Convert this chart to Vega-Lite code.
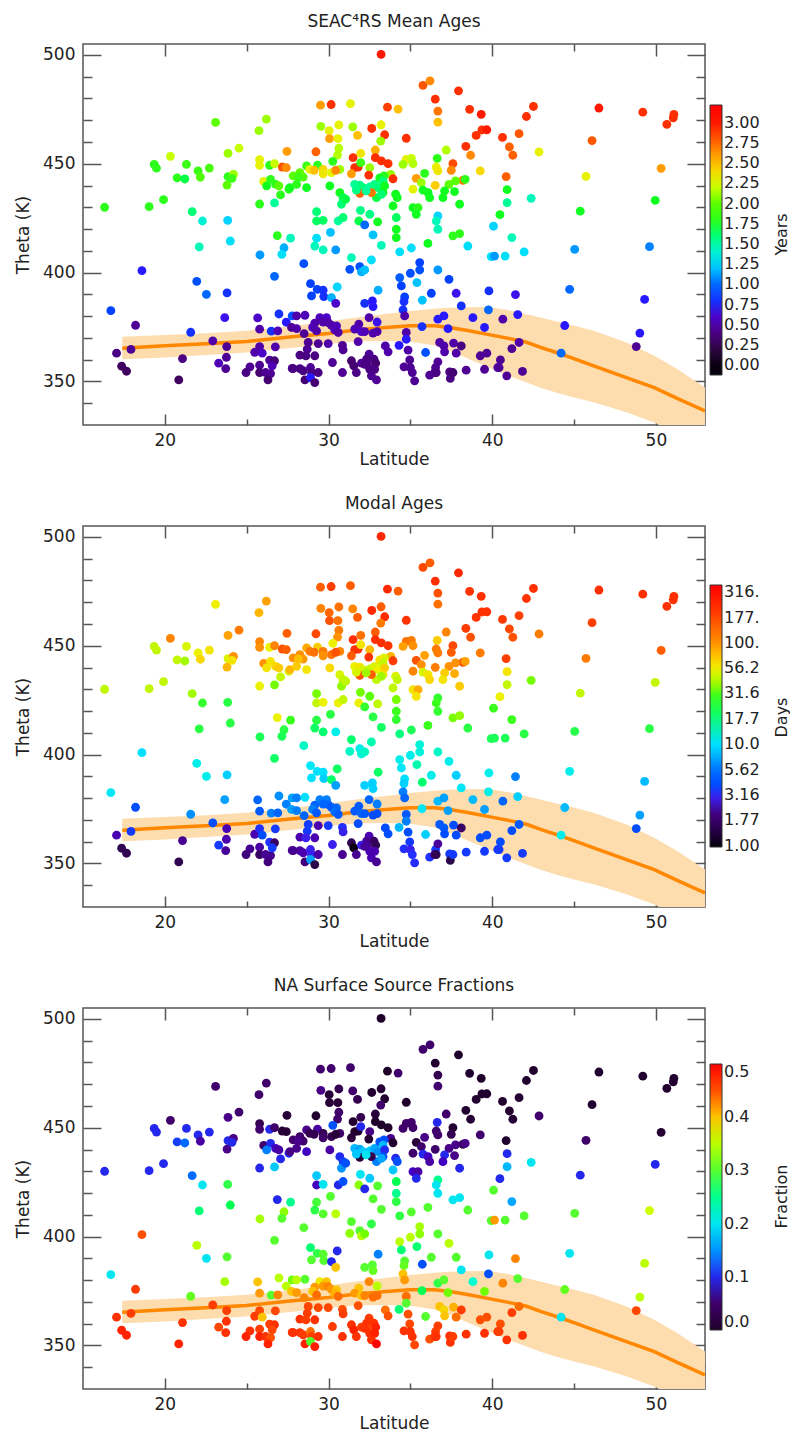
{
"$schema": "https://vega.github.io/schema/vega-lite/v6.json",
"background": "white",
"padding": {"left": 13, "top": 12, "right": 5, "bottom": 5},
"config": {
  "font": "DejaVu Sans",
  "view": {"stroke": "#555555", "strokeWidth": 1.5},
  "axis": {"domain": false, "grid": false, "tickColor": "#555555", "tickWidth": 1.5, "labelFontSize": 17, "titleFontSize": 17, "labelColor": "#222222", "titleColor": "#222222", "titleFontWeight": "normal", "labelFont": "DejaVu Sans", "titleFont": "DejaVu Sans"},
  "title": {"fontSize": 17, "fontWeight": "normal", "color": "#222222", "offset": 12, "font": "DejaVu Sans"},
  "legend": {"labelFontSize": 16, "labelColor": "#222222", "gradientThickness": 12, "gradientStrokeColor": "#333333", "gradientStrokeWidth": 1, "labelOffset": 8, "labelOverlap": false, "orient": "none", "direction": "vertical"}
},
"datasets": {
  "trop": [
    {"lat": 17.4, "th": 365.3, "lo": 360.2, "hi": 370.5},
    {"lat": 20, "th": 366.4, "lo": 361, "hi": 371.3},
    {"lat": 22.5, "th": 367.3, "lo": 362.1, "hi": 372.2},
    {"lat": 25, "th": 368.4, "lo": 363.3, "hi": 373.3},
    {"lat": 27.8, "th": 370.5, "lo": 365.5, "hi": 375.5},
    {"lat": 30, "th": 372, "lo": 367.2, "hi": 377.5},
    {"lat": 31.7, "th": 373.6, "lo": 368.5, "hi": 379.4},
    {"lat": 33.5, "th": 374.8, "lo": 368.6, "hi": 381},
    {"lat": 35, "th": 375.6, "lo": 368.2, "hi": 382.4},
    {"lat": 36.5, "th": 375.6, "lo": 366.5, "hi": 383.4},
    {"lat": 37.4, "th": 374.8, "lo": 364.1, "hi": 383.9},
    {"lat": 38.5, "th": 373.4, "lo": 360.5, "hi": 384.1},
    {"lat": 39.8, "th": 371.5, "lo": 356.4, "hi": 384.2},
    {"lat": 41, "th": 369.8, "lo": 352.6, "hi": 382.7},
    {"lat": 42.1, "th": 368, "lo": 349.5, "hi": 380.9},
    {"lat": 43, "th": 365.5, "lo": 347, "hi": 379.3},
    {"lat": 44.2, "th": 362.6, "lo": 344.2, "hi": 377.1},
    {"lat": 45.2, "th": 359.9, "lo": 342.3, "hi": 375.2},
    {"lat": 46.2, "th": 357.2, "lo": 340.4, "hi": 373.3},
    {"lat": 48.2, "th": 351.8, "lo": 335.8, "hi": 367.9},
    {"lat": 49.9, "th": 347.2, "lo": 331.2, "hi": 361.8},
    {"lat": 51.3, "th": 342.2, "lo": 326, "hi": 355.7},
    {"lat": 53, "th": 336.5, "lo": 320, "hi": 347.2}
  ],
  "pts": [
{"lat":23.1,"th":469.0,"a":2.0,"m":56,"f":0.05},
{"lat":26.2,"th":470.5,"a":2.1,"m":90,"f":0.05},
{"lat":25.75,"th":465.2,"a":2.1,"m":80,"f":0.05},
{"lat":27.46,"th":455.7,"a":2.6,"m":150,"f":0.03},
{"lat":24.53,"th":457.2,"a":2.2,"m":120,"f":0.05},
{"lat":23.86,"th":454.8,"a":2.1,"m":90,"f":0.06},
{"lat":20.34,"th":453.4,"a":2.2,"m":110,"f":0.05},
{"lat":19.35,"th":449.7,"a":1.8,"m":45,"f":0.1},
{"lat":19.49,"th":448.0,"a":1.8,"m":45,"f":0.1},
{"lat":21.32,"th":449.7,"a":1.85,"m":50,"f":0.1},
{"lat":22.03,"th":446.7,"a":1.85,"m":55,"f":0.1},
{"lat":22.72,"th":448.0,"a":1.9,"m":60,"f":0.1},
{"lat":22.17,"th":443.8,"a":1.95,"m":65,"f":0.07},
{"lat":20.75,"th":443.5,"a":1.8,"m":45,"f":0.11},
{"lat":21.22,"th":443.0,"a":1.7,"m":40,"f":0.13},
{"lat":23.86,"th":444.1,"a":1.8,"m":50,"f":0.1},
{"lat":24.19,"th":445.1,"a":2.1,"m":100,"f":0.06},
{"lat":23.8,"th":440.2,"a":2.0,"m":80,"f":0.06},
{"lat":24.1,"th":443.3,"a":1.85,"m":60,"f":0.1},
{"lat":25.79,"th":451.9,"a":2.3,"m":110,"f":0.04},
{"lat":25.79,"th":449.3,"a":2.3,"m":100,"f":0.05},
{"lat":26.4,"th":449.3,"a":1.8,"m":55,"f":0.1},
{"lat":26.7,"th":450.0,"a":2.2,"m":110,"f":0.05},
{"lat":27.17,"th":448.5,"a":2.8,"m":160,"f":0.03},
{"lat":27.42,"th":448.2,"a":2.65,"m":150,"f":0.03},
{"lat":26.04,"th":441.9,"a":2.3,"m":100,"f":0.05},
{"lat":26.46,"th":442.8,"a":1.8,"m":60,"f":0.1},
{"lat":26.77,"th":440.5,"a":1.8,"m":65,"f":0.08},
{"lat":26.97,"th":439.8,"a":2.0,"m":70,"f":0.07},
{"lat":27.58,"th":438.3,"a":1.8,"m":50,"f":0.1},
{"lat":26.22,"th":439.8,"a":1.75,"m":60,"f":0.14},
{"lat":27.07,"th":435.7,"a":1.8,"m":45,"f":0.1},
{"lat":25.79,"th":431.5,"a":1.8,"m":55,"f":0.1},
{"lat":26.7,"th":432.0,"a":1.5,"m":35,"f":0.18},
{"lat":16.32,"th":430.0,"a":1.8,"m":45,"f":0.1},
{"lat":19.04,"th":430.3,"a":1.8,"m":45,"f":0.1},
{"lat":19.92,"th":433.5,"a":1.8,"m":45,"f":0.1},
{"lat":21.67,"th":428.0,"a":1.6,"m":40,"f":0.13},
{"lat":22.3,"th":423.7,"a":1.4,"m":28,"f":0.2},
{"lat":23.84,"th":424.0,"a":1.25,"m":25,"f":0.28},
{"lat":26.87,"th":417.0,"a":1.8,"m":55,"f":0.1},
{"lat":27.68,"th":415.8,"a":1.45,"m":30,"f":0.25},
{"lat":24.0,"th":414.5,"a":1.3,"m":25,"f":0.27},
{"lat":22.1,"th":411.8,"a":1.45,"m":25,"f":0.26},
{"lat":25.81,"th":408.1,"a":1.1,"m":22,"f":0.34},
{"lat":27.28,"th":411.4,"a":1.15,"m":25,"f":0.33},
{"lat":27.15,"th":408.4,"a":1.3,"m":22,"f":0.3},
{"lat":18.6,"th":400.9,"a":0.75,"m":10,"f":0.45},
{"lat":21.95,"th":396.0,"a":0.9,"m":12,"f":0.35},
{"lat":22.54,"th":390.0,"a":1.0,"m":12,"f":0.2},
{"lat":23.8,"th":390.7,"a":0.8,"m":9,"f":0.3},
{"lat":26.7,"th":398.3,"a":1.0,"m":20,"f":0.3},
{"lat":16.7,"th":382.5,"a":0.85,"m":11,"f":0.2},
{"lat":18.21,"th":375.8,"a":0.45,"m":4,"f":0.47},
{"lat":23.66,"th":379.3,"a":0.7,"m":7,"f":0.34},
{"lat":25.67,"th":379.2,"a":0.6,"m":5,"f":0.4},
{"lat":25.79,"th":374.0,"a":0.5,"m":4.5,"f":0.42},
{"lat":26.5,"th":373.1,"a":0.8,"m":6,"f":0.3},
{"lat":26.97,"th":381.0,"a":0.8,"m":6.5,"f":0.35},
{"lat":26.9,"th":373.2,"a":0.55,"m":5,"f":0.43},
{"lat":27.42,"th":377.2,"a":0.75,"m":6,"f":0.35},
{"lat":27.78,"th":380.1,"a":0.9,"m":7,"f":0.32},
{"lat":21.58,"th":372.6,"a":0.8,"m":6.5,"f":0.31},
{"lat":22.93,"th":368.6,"a":0.5,"m":4,"f":0.47},
{"lat":17.05,"th":363.0,"a":0.4,"m":2.5,"f":0.48},
{"lat":17.93,"th":364.7,"a":0.45,"m":3.5,"f":0.47},
{"lat":17.36,"th":357.0,"a":0.3,"m":1.6,"f":0.49},
{"lat":17.66,"th":354.7,"a":0.3,"m":1.6,"f":0.49},
{"lat":21.08,"th":360.5,"a":0.4,"m":2.2,"f":0.48},
{"lat":20.85,"th":350.7,"a":0.3,"m":1.6,"f":0.49},
{"lat":23.78,"th":366.0,"a":0.45,"m":2.5,"f":0.47},
{"lat":23.76,"th":361.1,"a":0.45,"m":2.5,"f":0.48},
{"lat":23.29,"th":358.4,"a":0.55,"m":3.5,"f":0.46},
{"lat":23.72,"th":355.9,"a":0.45,"m":2.3,"f":0.48},
{"lat":25.49,"th":363.4,"a":0.5,"m":2.5,"f":0.47},
{"lat":25.79,"th":366.0,"a":0.5,"m":3.3,"f":0.46},
{"lat":25.95,"th":363.0,"a":0.6,"m":4,"f":0.4},
{"lat":25.2,"th":356.7,"a":0.45,"m":2.2,"f":0.48},
{"lat":24.96,"th":354.1,"a":0.4,"m":2.0,"f":0.49},
{"lat":25.79,"th":357.5,"a":0.45,"m":2.4,"f":0.47},
{"lat":25.79,"th":354.1,"a":0.35,"m":1.8,"f":0.49},
{"lat":26.16,"th":354.1,"a":0.45,"m":2.2,"f":0.48},
{"lat":26.46,"th":353.6,"a":0.45,"m":2.2,"f":0.45},
{"lat":26.3,"th":350.7,"a":0.35,"m":2.0,"f":0.49},
{"lat":26.4,"th":359.8,"a":0.45,"m":3.3,"f":0.47},
{"lat":26.7,"th":359.5,"a":0.35,"m":1.8,"f":0.48},
{"lat":26.56,"th":357.2,"a":0.55,"m":3.5,"f":0.46},
{"lat":27.78,"th":356.0,"a":0.45,"m":2.3,"f":0.48},
{"lat":26.75,"th":365.9,"a":0.5,"m":3.5,"f":0.46},
{"lat":33.21,"th":500.2,"a":3.0,"m":250,"f":0.0},
{"lat":29.51,"th":476.9,"a":2.6,"m":150,"f":0.05},
{"lat":30.16,"th":477.2,"a":2.95,"m":180,"f":0.05},
{"lat":31.34,"th":477.6,"a":2.3,"m":150,"f":0.05},
{"lat":33.6,"th":476.0,"a":2.9,"m":250,"f":0.0},
{"lat":34.25,"th":475.1,"a":2.5,"m":150,"f":0.05},
{"lat":35.77,"th":486.0,"a":2.8,"m":170,"f":0.05},
{"lat":36.2,"th":488.1,"a":2.65,"m":150,"f":0.05},
{"lat":36.52,"th":479.7,"a":2.95,"m":230,"f":0.01},
{"lat":36.68,"th":474.2,"a":2.7,"m":160,"f":0.04},
{"lat":36.68,"th":469.1,"a":2.5,"m":130,"f":0.05},
{"lat":37.94,"th":483.5,"a":2.95,"m":250,"f":0.0},
{"lat":38.62,"th":475.0,"a":2.95,"m":220,"f":0.01},
{"lat":39.33,"th":472.7,"a":3.0,"m":230,"f":0.0},
{"lat":29.53,"th":467.2,"a":2.1,"m":110,"f":0.06},
{"lat":30.04,"th":465.2,"a":2.3,"m":140,"f":0.03},
{"lat":30.63,"th":467.8,"a":2.3,"m":130,"f":0.04},
{"lat":31.48,"th":466.9,"a":2.1,"m":110,"f":0.05},
{"lat":30.06,"th":461.5,"a":2.6,"m":160,"f":0.03},
{"lat":30.57,"th":461.5,"a":2.3,"m":130,"f":0.03},
{"lat":31.77,"th":463.0,"a":2.5,"m":150,"f":0.04},
{"lat":32.64,"th":466.2,"a":2.95,"m":250,"f":0.01},
{"lat":33.21,"th":467.9,"a":2.3,"m":150,"f":0.03},
{"lat":33.43,"th":463.3,"a":2.95,"m":240,"f":0.01},
{"lat":33.19,"th":460.4,"a":2.1,"m":120,"f":0.05},
{"lat":34.75,"th":461.7,"a":2.95,"m":220,"f":0.0},
{"lat":39.37,"th":465.5,"a":2.95,"m":230,"f":0.01},
{"lat":39.67,"th":465.6,"a":3.0,"m":230,"f":0.01},
{"lat":39.02,"th":463.0,"a":2.95,"m":220,"f":0.01},
{"lat":38.39,"th":458.0,"a":2.95,"m":190,"f":0.01},
{"lat":38.68,"th":453.9,"a":2.65,"m":160,"f":0.03},
{"lat":29.23,"th":455.5,"a":2.75,"m":170,"f":0.01},
{"lat":30.63,"th":457.1,"a":2.15,"m":120,"f":0.05},
{"lat":30.55,"th":454.0,"a":2.15,"m":100,"f":0.05},
{"lat":31.97,"th":454.8,"a":2.35,"m":130,"f":0.04},
{"lat":32.86,"th":456.3,"a":2.55,"m":150,"f":0.03},
{"lat":31.5,"th":452.8,"a":2.95,"m":230,"f":0.01},
{"lat":32.86,"th":452.8,"a":2.95,"m":230,"f":0.0},
{"lat":33.23,"th":451.3,"a":2.95,"m":230,"f":0.0},
{"lat":33.64,"th":450.0,"a":2.95,"m":220,"f":0.01},
{"lat":30.26,"th":451.1,"a":1.8,"m":55,"f":0.12},
{"lat":29.33,"th":449.4,"a":1.8,"m":70,"f":0.07},
{"lat":28.66,"th":449.0,"a":1.85,"m":85,"f":0.06},
{"lat":28.25,"th":445.9,"a":2.0,"m":100,"f":0.05},
{"lat":27.84,"th":444.4,"a":2.0,"m":100,"f":0.05},
{"lat":28.86,"th":447.4,"a":2.3,"m":120,"f":0.04},
{"lat":29.12,"th":447.0,"a":2.5,"m":130,"f":0.04},
{"lat":29.67,"th":447.4,"a":2.4,"m":120,"f":0.04},
{"lat":29.67,"th":445.4,"a":2.35,"m":100,"f":0.05},
{"lat":30.18,"th":445.9,"a":2.3,"m":130,"f":0.04},
{"lat":30.69,"th":447.4,"a":2.1,"m":110,"f":0.05},
{"lat":30.44,"th":447.0,"a":2.65,"m":160,"f":0.03},
{"lat":31.6,"th":448.2,"a":2.95,"m":220,"f":0.01},
{"lat":31.81,"th":448.5,"a":2.95,"m":220,"f":0.01},
{"lat":32.52,"th":448.2,"a":2.1,"m":80,"f":0.06},
{"lat":31.4,"th":445.4,"a":2.6,"m":150,"f":0.03},
{"lat":32.46,"th":444.8,"a":2.95,"m":220,"f":0.01},
{"lat":31.97,"th":450.5,"a":1.85,"m":60,"f":0.1},
{"lat":33.8,"th":445.1,"a":2.1,"m":80,"f":0.06},
{"lat":33.94,"th":443.1,"a":2.95,"m":200,"f":0.01},
{"lat":33.39,"th":444.4,"a":1.8,"m":50,"f":0.12},
{"lat":34.75,"th":452.0,"a":2.3,"m":130,"f":0.05},
{"lat":35.06,"th":452.5,"a":2.2,"m":120,"f":0.05},
{"lat":34.55,"th":449.7,"a":2.1,"m":90,"f":0.05},
{"lat":35.16,"th":450.0,"a":2.15,"m":100,"f":0.05},
{"lat":36.64,"th":452.5,"a":1.8,"m":70,"f":0.1},
{"lat":37.19,"th":456.3,"a":2.15,"m":110,"f":0.05},
{"lat":37.6,"th":450.0,"a":2.85,"m":170,"f":0.02},
{"lat":37.5,"th":447.0,"a":2.65,"m":150,"f":0.04},
{"lat":36.58,"th":448.5,"a":2.3,"m":120,"f":0.05},
{"lat":36.68,"th":446.7,"a":2.35,"m":120,"f":0.05},
{"lat":35.87,"th":445.6,"a":1.8,"m":90,"f":0.06},
{"lat":35.36,"th":443.3,"a":2.6,"m":160,"f":0.03},
{"lat":39.27,"th":446.7,"a":2.4,"m":120,"f":0.05},
{"lat":38.21,"th":442.4,"a":2.7,"m":160,"f":0.04},
{"lat":38.35,"th":442.8,"a":1.8,"m":90,"f":0.06},
{"lat":37.76,"th":442.1,"a":2.0,"m":100,"f":0.06},
{"lat":37.36,"th":440.5,"a":2.0,"m":100,"f":0.06},
{"lat":36.52,"th":440.1,"a":2.45,"m":120,"f":0.05},
{"lat":37.09,"th":437.5,"a":1.75,"m":70,"f":0.1},
{"lat":36.99,"th":434.4,"a":1.75,"m":60,"f":0.08},
{"lat":37.7,"th":437.2,"a":1.75,"m":85,"f":0.06},
{"lat":35.16,"th":438.3,"a":2.3,"m":110,"f":0.05},
{"lat":35.67,"th":441.3,"a":2.1,"m":100,"f":0.05},
{"lat":35.77,"th":437.9,"a":1.75,"m":50,"f":0.1},
{"lat":36.08,"th":436.7,"a":1.75,"m":60,"f":0.08},
{"lat":36.18,"th":434.4,"a":1.75,"m":65,"f":0.07},
{"lat":38.01,"th":431.4,"a":1.75,"m":70,"f":0.1},
{"lat":27.64,"th":439.0,"a":1.75,"m":80,"f":0.06},
{"lat":28.05,"th":440.5,"a":1.8,"m":70,"f":0.06},
{"lat":28.45,"th":443.9,"a":1.95,"m":95,"f":0.05},
{"lat":28.66,"th":439.0,"a":1.75,"m":60,"f":0.08},
{"lat":28.15,"th":443.9,"a":1.85,"m":75,"f":0.06},
{"lat":30.08,"th":439.8,"a":1.75,"m":65,"f":0.07},
{"lat":30.69,"th":436.7,"a":1.75,"m":50,"f":0.1},
{"lat":30.89,"th":434.4,"a":1.7,"m":45,"f":0.11},
{"lat":30.79,"th":431.4,"a":1.6,"m":38,"f":0.15},
{"lat":31.05,"th":433.7,"a":1.7,"m":45,"f":0.12},
{"lat":31.6,"th":440.5,"a":1.5,"m":55,"f":0.17},
{"lat":31.91,"th":440.2,"a":1.55,"m":60,"f":0.16},
{"lat":32.11,"th":439.0,"a":1.6,"m":50,"f":0.18},
{"lat":32.52,"th":439.3,"a":1.5,"m":45,"f":0.18},
{"lat":32.82,"th":440.5,"a":1.55,"m":50,"f":0.16},
{"lat":33.03,"th":439.0,"a":1.6,"m":55,"f":0.15},
{"lat":33.13,"th":443.5,"a":1.75,"m":60,"f":0.12},
{"lat":33.33,"th":442.0,"a":1.6,"m":45,"f":0.17},
{"lat":33.43,"th":439.8,"a":1.75,"m":70,"f":0.1},
{"lat":33.33,"th":436.7,"a":1.75,"m":60,"f":0.12},
{"lat":32.93,"th":434.4,"a":1.7,"m":45,"f":0.14},
{"lat":33.23,"th":435.9,"a":1.6,"m":40,"f":0.16},
{"lat":32.62,"th":436.7,"a":2.7,"m":150,"f":0.04},
{"lat":31.91,"th":436.4,"a":2.75,"m":160,"f":0.03},
{"lat":32.3,"th":437.5,"a":1.5,"m":40,"f":0.2},
{"lat":31.7,"th":437.9,"a":1.55,"m":50,"f":0.18},
{"lat":34.1,"th":436.0,"a":1.75,"m":50,"f":0.1},
{"lat":34.2,"th":434.4,"a":1.75,"m":45,"f":0.12},
{"lat":33.94,"th":430.6,"a":1.75,"m":45,"f":0.18},
{"lat":34.14,"th":425.3,"a":1.65,"m":35,"f":0.27},
{"lat":31.95,"th":428.6,"a":1.55,"m":35,"f":0.2},
{"lat":32.52,"th":426.8,"a":1.55,"m":33,"f":0.18},
{"lat":33.0,"th":423.3,"a":1.75,"m":45,"f":0.3},
{"lat":31.85,"th":423.7,"a":1.7,"m":55,"f":0.33},
{"lat":29.27,"th":428.0,"a":1.6,"m":35,"f":0.18},
{"lat":29.27,"th":423.7,"a":1.65,"m":45,"f":0.08},
{"lat":29.67,"th":424.0,"a":1.65,"m":55,"f":0.2},
{"lat":30.59,"th":423.7,"a":1.5,"m":55,"f":0.1},
{"lat":30.89,"th":425.3,"a":1.6,"m":45,"f":0.12},
{"lat":32.21,"th":421.9,"a":1.0,"m":28,"f":0.1},
{"lat":32.72,"th":417.3,"a":1.2,"m":25,"f":0.3},
{"lat":30.12,"th":418.5,"a":1.2,"m":25,"f":0.3},
{"lat":29.27,"th":415.8,"a":1.3,"m":25,"f":0.29},
{"lat":34.14,"th":419.9,"a":1.75,"m":30,"f":0.25},
{"lat":34.14,"th":416.1,"a":1.75,"m":28,"f":0.28},
{"lat":35.16,"th":429.8,"a":1.75,"m":60,"f":0.08},
{"lat":35.47,"th":429.8,"a":1.8,"m":85,"f":0.07},
{"lat":35.36,"th":426.8,"a":1.75,"m":60,"f":0.1},
{"lat":36.68,"th":426.0,"a":1.25,"m":28,"f":0.25},
{"lat":36.68,"th":419.9,"a":1.45,"m":28,"f":0.2},
{"lat":36.58,"th":423.7,"a":1.45,"m":30,"f":0.2},
{"lat":37.6,"th":416.9,"a":1.8,"m":35,"f":0.2},
{"lat":38.01,"th":417.9,"a":1.8,"m":38,"f":0.2},
{"lat":40.08,"th":421.3,"a":1.25,"m":30,"f":0.3},
{"lat":42.52,"th":476.3,"a":2.95,"m":230,"f":0.01},
{"lat":42.09,"th":471.7,"a":2.95,"m":220,"f":0.01},
{"lat":40.63,"th":462.1,"a":2.95,"m":200,"f":0.01},
{"lat":41.64,"th":463.8,"a":2.8,"m":180,"f":0.02},
{"lat":41.05,"th":457.7,"a":2.75,"m":170,"f":0.02},
{"lat":41.26,"th":453.9,"a":2.75,"m":160,"f":0.02},
{"lat":42.86,"th":455.4,"a":2.3,"m":120,"f":0.05},
{"lat":40.85,"th":444.1,"a":2.75,"m":180,"f":0.01},
{"lat":40.91,"th":438.1,"a":1.75,"m":60,"f":0.1},
{"lat":40.91,"th":432.1,"a":1.5,"m":45,"f":0.17},
{"lat":40.47,"th":426.6,"a":1.75,"m":55,"f":0.1},
{"lat":42.38,"th":434.1,"a":1.45,"m":35,"f":0.2},
{"lat":41.2,"th":416.1,"a":1.45,"m":30,"f":0.16},
{"lat":46.52,"th":475.6,"a":3.0,"m":230,"f":0.01},
{"lat":46.1,"th":460.6,"a":2.8,"m":180,"f":0.01},
{"lat":45.73,"th":444.2,"a":2.3,"m":120,"f":0.05},
{"lat":45.38,"th":428.2,"a":1.75,"m":45,"f":0.1},
{"lat":49.2,"th":473.7,"a":2.95,"m":230,"f":0.01},
{"lat":50.67,"th":468.1,"a":2.95,"m":220,"f":0.01},
{"lat":51.06,"th":471.1,"a":2.95,"m":220,"f":0.01},
{"lat":51.1,"th":472.7,"a":2.95,"m":230,"f":0.01},
{"lat":50.32,"th":447.9,"a":2.6,"m":150,"f":0.02},
{"lat":49.96,"th":433.2,"a":1.75,"m":45,"f":0.1},
{"lat":29.16,"th":412.2,"a":1.45,"m":20,"f":0.28},
{"lat":29.67,"th":410.4,"a":1.45,"m":18,"f":0.3},
{"lat":30.44,"th":410.4,"a":1.1,"m":12,"f":0.35},
{"lat":31.4,"th":406.9,"a":1.45,"m":18,"f":0.3},
{"lat":32.62,"th":405.8,"a":1.3,"m":15,"f":0.28},
{"lat":33.23,"th":412.5,"a":1.45,"m":20,"f":0.3},
{"lat":34.35,"th":409.5,"a":1.3,"m":17,"f":0.28},
{"lat":35.06,"th":411.3,"a":1.3,"m":22,"f":0.3},
{"lat":36.07,"th":413.4,"a":1.75,"m":30,"f":0.3},
{"lat":38.51,"th":412.2,"a":1.3,"m":25,"f":0.3},
{"lat":39.94,"th":407.3,"a":1.3,"m":22,"f":0.3},
{"lat":40.14,"th":407.6,"a":1.1,"m":22,"f":0.42},
{"lat":28.49,"th":404.1,"a":0.9,"m":14,"f":0.3},
{"lat":31.3,"th":401.5,"a":0.9,"m":14,"f":0.33},
{"lat":31.91,"th":402.7,"a":0.9,"m":12,"f":0.3},
{"lat":32.01,"th":400.3,"a":1.15,"m":13,"f":0.35},
{"lat":32.21,"th":401.2,"a":1.2,"m":14,"f":0.32},
{"lat":35.57,"th":404.6,"a":0.85,"m":13,"f":0.34},
{"lat":35.0,"th":399.7,"a":0.9,"m":12,"f":0.35},
{"lat":35.57,"th":401.2,"a":0.9,"m":13,"f":0.33},
{"lat":34.35,"th":397.7,"a":0.95,"m":12,"f":0.35},
{"lat":36.68,"th":401.2,"a":1.1,"m":14,"f":0.3},
{"lat":37.36,"th":396.9,"a":0.85,"m":12,"f":0.35},
{"lat":35.4,"th":395.4,"a":1.2,"m":15,"f":0.26},
{"lat":34.45,"th":393.9,"a":0.85,"m":11,"f":0.26},
{"lat":28.9,"th":394.9,"a":0.85,"m":11,"f":0.26},
{"lat":29.31,"th":392.3,"a":0.85,"m":10,"f":0.28},
{"lat":29.67,"th":391.9,"a":0.8,"m":10,"f":0.3},
{"lat":29.71,"th":389.0,"a":0.8,"m":9,"f":0.3},
{"lat":28.96,"th":389.3,"a":0.85,"m":10,"f":0.3},
{"lat":30.53,"th":393.4,"a":1.25,"m":20,"f":0.1},
{"lat":30.18,"th":388.5,"a":1.15,"m":18,"f":0.1},
{"lat":30.44,"th":385.9,"a":0.6,"m":7,"f":0.4},
{"lat":33.03,"th":391.9,"a":1.15,"m":20,"f":0.14},
{"lat":32.21,"th":385.9,"a":0.8,"m":9,"f":0.3},
{"lat":32.68,"th":387.0,"a":0.75,"m":9,"f":0.3},
{"lat":32.72,"th":384.4,"a":0.75,"m":9,"f":0.31},
{"lat":34.65,"th":388.8,"a":0.85,"m":10,"f":0.3},
{"lat":34.61,"th":386.7,"a":0.8,"m":9,"f":0.31},
{"lat":34.55,"th":382.9,"a":0.8,"m":6,"f":0.4},
{"lat":35.73,"th":387.3,"a":1.2,"m":18,"f":0.12},
{"lat":36.28,"th":390.5,"a":0.85,"m":12,"f":0.3},
{"lat":37.8,"th":390.5,"a":0.7,"m":9,"f":0.3},
{"lat":38.11,"th":384.7,"a":0.8,"m":11,"f":0.2},
{"lat":39.8,"th":391.6,"a":0.8,"m":12,"f":0.2},
{"lat":39.77,"th":382.9,"a":1.0,"m":12,"f":0.12},
{"lat":38.82,"th":379.3,"a":0.75,"m":8,"f":0.22},
{"lat":39.53,"th":374.8,"a":0.75,"m":7,"f":0.32},
{"lat":36.68,"th":378.6,"a":0.75,"m":8,"f":0.28},
{"lat":37.05,"th":380.1,"a":0.75,"m":7,"f":0.3},
{"lat":37.3,"th":374.3,"a":0.75,"m":7,"f":0.32},
{"lat":35.71,"th":375.2,"a":0.8,"m":11,"f":0.27},
{"lat":32.48,"th":379.3,"a":0.5,"m":5,"f":0.43},
{"lat":32.97,"th":377.3,"a":0.7,"m":6,"f":0.35},
{"lat":31.85,"th":376.3,"a":0.5,"m":4.5,"f":0.4},
{"lat":31.6,"th":374.0,"a":0.55,"m":4.5,"f":0.42},
{"lat":32.01,"th":372.9,"a":0.6,"m":5,"f":0.4},
{"lat":32.21,"th":372.9,"a":0.55,"m":4.5,"f":0.43},
{"lat":32.72,"th":372.2,"a":0.5,"m":4,"f":0.44},
{"lat":32.97,"th":372.9,"a":0.5,"m":4,"f":0.44},
{"lat":34.65,"th":380.1,"a":0.5,"m":5,"f":0.42},
{"lat":34.75,"th":372.5,"a":0.5,"m":4.5,"f":0.44},
{"lat":34.75,"th":369.4,"a":0.75,"m":6,"f":0.3},
{"lat":34.31,"th":366.6,"a":0.75,"m":8,"f":0.26},
{"lat":34.86,"th":364.4,"a":0.5,"m":4,"f":0.45},
{"lat":36.79,"th":367.9,"a":0.5,"m":4.5,"f":0.4},
{"lat":37.05,"th":366.3,"a":0.5,"m":4.5,"f":0.39},
{"lat":37.09,"th":363.6,"a":0.5,"m":4,"f":0.4},
{"lat":37.64,"th":367.6,"a":0.5,"m":4,"f":0.41},
{"lat":38.11,"th":366.3,"a":0.4,"m":1.8,"f":0.47},
{"lat":37.8,"th":363.0,"a":0.5,"m":4,"f":0.44},
{"lat":35.93,"th":363.3,"a":0.9,"m":9,"f":0.3},
{"lat":39.27,"th":361.8,"a":0.45,"m":4,"f":0.45},
{"lat":39.67,"th":363.0,"a":0.45,"m":4,"f":0.45},
{"lat":28.05,"th":380.1,"a":0.5,"m":6,"f":0.35},
{"lat":28.56,"th":380.4,"a":0.55,"m":10,"f":0.3},
{"lat":27.74,"th":374.8,"a":0.45,"m":7,"f":0.4},
{"lat":28.05,"th":374.3,"a":0.5,"m":6,"f":0.42},
{"lat":29.47,"th":379.3,"a":0.55,"m":6,"f":0.38},
{"lat":29.88,"th":379.3,"a":0.6,"m":6,"f":0.4},
{"lat":29.16,"th":376.8,"a":0.5,"m":5,"f":0.42},
{"lat":29.67,"th":377.3,"a":0.5,"m":5,"f":0.42},
{"lat":29.03,"th":374.8,"a":0.55,"m":6,"f":0.4},
{"lat":29.27,"th":373.2,"a":0.5,"m":4.5,"f":0.44},
{"lat":29.98,"th":377.0,"a":0.5,"m":5,"f":0.43},
{"lat":30.18,"th":375.8,"a":0.5,"m":4.5,"f":0.42},
{"lat":30.49,"th":375.5,"a":0.55,"m":5,"f":0.4},
{"lat":30.38,"th":373.7,"a":0.55,"m":5.5,"f":0.41},
{"lat":30.59,"th":372.5,"a":0.5,"m":4.5,"f":0.44},
{"lat":28.51,"th":372.0,"a":0.45,"m":5,"f":0.43},
{"lat":28.76,"th":367.9,"a":0.45,"m":3.5,"f":0.46},
{"lat":28.7,"th":364.8,"a":0.45,"m":3.5,"f":0.47},
{"lat":28.25,"th":362.1,"a":0.4,"m":2.5,"f":0.48},
{"lat":28.62,"th":361.8,"a":0.4,"m":3,"f":0.47},
{"lat":29.16,"th":361.8,"a":0.4,"m":2.5,"f":0.48},
{"lat":29.37,"th":367.4,"a":0.45,"m":2.5,"f":0.46},
{"lat":29.98,"th":367.4,"a":0.5,"m":3.5,"f":0.46},
{"lat":30.85,"th":366.6,"a":0.45,"m":3.3,"f":0.45},
{"lat":30.89,"th":364.5,"a":0.45,"m":3,"f":0.47},
{"lat":31.81,"th":368.3,"a":0.5,"m":4,"f":0.45},
{"lat":33.47,"th":366.3,"a":0.5,"m":4,"f":0.44},
{"lat":33.64,"th":363.6,"a":0.5,"m":4,"f":0.45},
{"lat":32.48,"th":362.5,"a":0.45,"m":2.5,"f":0.47},
{"lat":32.32,"th":360.2,"a":0.4,"m":2.2,"f":0.48},
{"lat":32.78,"th":360.2,"a":0.4,"m":1.8,"f":0.48},
{"lat":32.88,"th":358.4,"a":0.35,"m":1.6,"f":0.49},
{"lat":32.36,"th":357.9,"a":0.4,"m":2.2,"f":0.47},
{"lat":32.52,"th":355.6,"a":0.4,"m":2.5,"f":0.48},
{"lat":32.82,"th":355.6,"a":0.4,"m":2.5,"f":0.49},
{"lat":32.62,"th":352.6,"a":0.45,"m":2.5,"f":0.48},
{"lat":32.93,"th":350.7,"a":0.45,"m":2.2,"f":0.5},
{"lat":31.4,"th":359.5,"a":0.35,"m":1.6,"f":0.48},
{"lat":31.54,"th":357.2,"a":0.35,"m":1.0,"f":0.49},
{"lat":31.7,"th":354.1,"a":0.4,"m":2.2,"f":0.48},
{"lat":32.01,"th":358.4,"a":0.45,"m":3,"f":0.47},
{"lat":32.21,"th":357.9,"a":0.4,"m":2.3,"f":0.48},
{"lat":30.24,"th":358.7,"a":0.45,"m":3,"f":0.47},
{"lat":30.85,"th":354.1,"a":0.45,"m":2.2,"f":0.48},
{"lat":27.84,"th":355.9,"a":0.4,"m":2.2,"f":0.48},
{"lat":28.25,"th":355.9,"a":0.4,"m":2.3,"f":0.48},
{"lat":28.45,"th":354.9,"a":0.4,"m":2.5,"f":0.47},
{"lat":28.9,"th":356.4,"a":0.45,"m":3,"f":0.44},
{"lat":28.96,"th":354.1,"a":0.4,"m":3,"f":0.47},
{"lat":29.37,"th":354.1,"a":0.4,"m":2.4,"f":0.48},
{"lat":28.56,"th":350.7,"a":0.35,"m":2.0,"f":0.49},
{"lat":28.9,"th":351.8,"a":0.75,"m":7,"f":0.3},
{"lat":29.16,"th":349.5,"a":0.35,"m":1.5,"f":0.49},
{"lat":34.61,"th":356.7,"a":0.45,"m":3.3,"f":0.48},
{"lat":34.96,"th":359.9,"a":0.45,"m":3.5,"f":0.46},
{"lat":35.0,"th":356.4,"a":0.45,"m":3,"f":0.48},
{"lat":35.12,"th":354.1,"a":0.45,"m":3.3,"f":0.48},
{"lat":35.26,"th":350.3,"a":0.45,"m":3.2,"f":0.46},
{"lat":36.18,"th":352.9,"a":0.45,"m":3.3,"f":0.45},
{"lat":36.54,"th":356.4,"a":0.45,"m":3.5,"f":0.47},
{"lat":36.68,"th":359.0,"a":0.45,"m":2.3,"f":0.47},
{"lat":36.48,"th":354.1,"a":0.45,"m":2.0,"f":0.47},
{"lat":36.58,"th":354.1,"a":0.4,"m":1.6,"f":0.48},
{"lat":37.4,"th":354.4,"a":0.4,"m":3.5,"f":0.48},
{"lat":37.44,"th":351.4,"a":0.4,"m":1.5,"f":0.48},
{"lat":37.6,"th":354.1,"a":0.35,"m":3.5,"f":0.47},
{"lat":38.41,"th":355.2,"a":0.45,"m":3.5,"f":0.48},
{"lat":39.53,"th":355.6,"a":0.45,"m":3.5,"f":0.48},
{"lat":40.34,"th":356.4,"a":0.5,"m":3.5,"f":0.47},
{"lat":40.79,"th":407.6,"a":1.3,"m":22,"f":0.3},
{"lat":41.95,"th":409.5,"a":1.3,"m":25,"f":0.3},
{"lat":45.04,"th":410.7,"a":1.1,"m":24,"f":0.3},
{"lat":49.61,"th":411.9,"a":1.05,"m":25,"f":0.36},
{"lat":41.42,"th":389.9,"a":0.7,"m":6,"f":0.43},
{"lat":44.73,"th":392.3,"a":1.0,"m":12,"f":0.2},
{"lat":49.31,"th":387.7,"a":0.75,"m":8,"f":0.35},
{"lat":40.65,"th":378.6,"a":0.5,"m":5,"f":0.43},
{"lat":41.56,"th":380.7,"a":0.75,"m":9,"f":0.3},
{"lat":44.43,"th":375.7,"a":0.75,"m":8,"f":0.31},
{"lat":49.02,"th":372.2,"a":0.75,"m":7,"f":0.35},
{"lat":48.8,"th":366.0,"a":0.45,"m":4,"f":0.46},
{"lat":44.21,"th":363.0,"a":1.0,"m":12,"f":0.2},
{"lat":41.2,"th":365.1,"a":0.45,"m":4,"f":0.47},
{"lat":41.64,"th":367.9,"a":0.5,"m":4.5,"f":0.44},
{"lat":40.5,"th":359.9,"a":0.45,"m":4,"f":0.45},
{"lat":40.42,"th":356.4,"a":0.45,"m":3.5,"f":0.47},
{"lat":40.89,"th":352.6,"a":0.45,"m":3.5,"f":0.48},
{"lat":41.85,"th":354.6,"a":0.45,"m":3.5,"f":0.48}
  ]
},
"spacing": 26,
"resolve": {"scale": {"color": "independent"}, "legend": {"color": "independent"}},
"vconcat": [
 {
  "title": {"text": "SEAC⁴RS Mean Ages"},
  "width": 622, "height": 381,
  "resolve": {"axis": {"x": "independent", "y": "independent"}},
  "layer": [
   {"data": {"name": "trop"}, "mark": {"type": "area", "color": "#fddcae", "opacity": 1, "clip": true},
    "encoding": {
     "x": {"field": "lat", "type": "quantitative", "scale": {"domain": [15, 53], "nice": false, "zero": false}, "axis": {"orient": "bottom", "values": [20, 30, 40, 50], "ticks": false, "title": "Latitude", "labelPadding": 7, "titlePadding": 3}},
     "y": {"field": "lo", "type": "quantitative", "scale": {"domain": [330, 505], "nice": false, "zero": false}, "axis": {"orient": "left", "values": [350, 400, 450, 500], "ticks": false, "title": "Theta (K)", "labelPadding": 8, "titlePadding": 10}},
     "y2": {"field": "hi"}}},
   {"data": {"name": "trop"}, "mark": {"type": "line", "color": "#ff8800", "strokeWidth": 3.5, "clip": true},
    "encoding": {
     "x": {"field": "lat", "type": "quantitative", "axis": {"orient": "bottom", "values": [20, 30, 40, 50], "tickSize": -11, "labels": false, "title": null}},
     "y": {"field": "th", "type": "quantitative", "axis": {"orient": "left", "values": [350, 400, 450, 500], "tickSize": -18, "labels": false, "title": null}}}},
   {"data": {"name": "pts"}, "mark": {"type": "circle", "size": 78, "opacity": 1},
    "encoding": {
     "x": {"field": "lat", "type": "quantitative", "axis": {"orient": "bottom", "values": [25, 35, 45], "tickSize": -6, "labels": false, "title": null}},
     "y": {"field": "th", "type": "quantitative", "axis": {"orient": "left", "values": [340, 360, 370, 380, 390, 410, 420, 430, 440, 460, 470, 480, 490], "tickSize": -9, "labels": false, "title": null}},
     "color": {"field": "a", "type": "quantitative",
       "scale": {"domain": [-0.12, 0, 0.25, 0.5, 0.75, 1.0, 1.25, 1.5, 1.75, 2.0, 2.25, 2.5, 2.75, 3.0, 3.22], "range": ["#000000", "#0a0010", "#380050", "#5000a8", "#2818ff", "#0068ff", "#00d4ff", "#00ff98", "#10ff20", "#5cff00", "#dcff00", "#ffc000", "#ff6000", "#ff1800", "#ff0000"]},
       "legend": {"title": null, "legendX": 627, "legendY": 61, "gradientLength": 270, "values": [0, 0.25, 0.5, 0.75, 1.0, 1.25, 1.5, 1.75, 2.0, 2.25, 2.5, 2.75, 3.0], "format": ".2f"}}}},
   {"data": {"name": "trop"}, "mark": {"type": "point", "opacity": 0},
    "encoding": {
     "x": {"field": "lat", "type": "quantitative", "axis": {"orient": "top", "values": [20, 30, 40, 50], "tickSize": -12, "labels": false, "title": null}},
     "y": {"field": "th", "type": "quantitative", "axis": {"orient": "right", "values": [350, 400, 450, 500], "tickSize": -18, "labels": false, "title": "Years", "titleFontSize": 16, "titleAngle": 270, "titleX": 76, "titleY": 190, "titleAlign": "center", "titleBaseline": "middle"}}}},
   {"data": {"name": "trop"}, "mark": {"type": "point", "opacity": 0},
    "encoding": {
     "x": {"field": "lat", "type": "quantitative", "axis": {"orient": "top", "values": [25, 35, 45], "tickSize": -7, "labels": false, "title": null}},
     "y": {"field": "th", "type": "quantitative", "axis": {"orient": "right", "values": [340, 360, 370, 380, 390, 410, 420, 430, 440, 460, 470, 480, 490], "tickSize": -9, "labels": false, "title": null}}}}
  ]
 },
 {
  "title": {"text": "Modal Ages"},
  "width": 622, "height": 381,
  "resolve": {"axis": {"x": "independent", "y": "independent"}},
  "layer": [
   {"data": {"name": "trop"}, "mark": {"type": "area", "color": "#fddcae", "opacity": 1, "clip": true},
    "encoding": {
     "x": {"field": "lat", "type": "quantitative", "scale": {"domain": [15, 53], "nice": false, "zero": false}, "axis": {"orient": "bottom", "values": [20, 30, 40, 50], "ticks": false, "title": "Latitude", "labelPadding": 7, "titlePadding": 3}},
     "y": {"field": "lo", "type": "quantitative", "scale": {"domain": [330, 505], "nice": false, "zero": false}, "axis": {"orient": "left", "values": [350, 400, 450, 500], "ticks": false, "title": "Theta (K)", "labelPadding": 8, "titlePadding": 10}},
     "y2": {"field": "hi"}}},
   {"data": {"name": "trop"}, "mark": {"type": "line", "color": "#ff8800", "strokeWidth": 3.5, "clip": true},
    "encoding": {
     "x": {"field": "lat", "type": "quantitative", "axis": {"orient": "bottom", "values": [20, 30, 40, 50], "tickSize": -11, "labels": false, "title": null}},
     "y": {"field": "th", "type": "quantitative", "axis": {"orient": "left", "values": [350, 400, 450, 500], "tickSize": -18, "labels": false, "title": null}}}},
   {"data": {"name": "pts"}, "mark": {"type": "circle", "size": 78, "opacity": 1},
    "encoding": {
     "x": {"field": "lat", "type": "quantitative", "axis": {"orient": "bottom", "values": [25, 35, 45], "tickSize": -6, "labels": false, "title": null}},
     "y": {"field": "th", "type": "quantitative", "axis": {"orient": "left", "values": [340, 360, 370, 380, 390, 410, 420, 430, 440, 460, 470, 480, 490], "tickSize": -9, "labels": false, "title": null}},
     "color": {"field": "m", "type": "quantitative",
       "scale": {"type": "log", "domain": [0.97, 1, 1.77, 2.5, 3.16, 5.62, 10, 17.7, 31.6, 56.2, 100, 177, 316, 370], "range": ["#000000", "#0a0012", "#380060", "#4a00b0", "#2828ff", "#0070ff", "#00e0ff", "#00ff70", "#40ff00", "#f0f000", "#ff9000", "#ff4000", "#ff0800", "#ff0000"]},
       "legend": {"title": null, "legendX": 627, "legendY": 59, "gradientLength": 262, "values": [1, 1.77, 3.16, 5.62, 10, 17.7, 31.6, 56.2, 100, 177, 316], "labelExpr": "datum.value >= 100 ? format(datum.value, '.0f') + '.' : format(datum.value, '.3r')"}}}},
   {"data": {"name": "trop"}, "mark": {"type": "point", "opacity": 0},
    "encoding": {
     "x": {"field": "lat", "type": "quantitative", "axis": {"orient": "top", "values": [20, 30, 40, 50], "tickSize": -12, "labels": false, "title": null}},
     "y": {"field": "th", "type": "quantitative", "axis": {"orient": "right", "values": [350, 400, 450, 500], "tickSize": -18, "labels": false, "title": "Days", "titleFontSize": 16, "titleAngle": 270, "titleX": 76, "titleY": 191, "titleAlign": "center", "titleBaseline": "middle"}}}},
   {"data": {"name": "trop"}, "mark": {"type": "point", "opacity": 0},
    "encoding": {
     "x": {"field": "lat", "type": "quantitative", "axis": {"orient": "top", "values": [25, 35, 45], "tickSize": -7, "labels": false, "title": null}},
     "y": {"field": "th", "type": "quantitative", "axis": {"orient": "right", "values": [340, 360, 370, 380, 390, 410, 420, 430, 440, 460, 470, 480, 490], "tickSize": -9, "labels": false, "title": null}}}}
  ]
 },
 {
  "title": {"text": "NA Surface Source Fractions"},
  "width": 622, "height": 381,
  "resolve": {"axis": {"x": "independent", "y": "independent"}},
  "layer": [
   {"data": {"name": "trop"}, "mark": {"type": "area", "color": "#fddcae", "opacity": 1, "clip": true},
    "encoding": {
     "x": {"field": "lat", "type": "quantitative", "scale": {"domain": [15, 53], "nice": false, "zero": false}, "axis": {"orient": "bottom", "values": [20, 30, 40, 50], "ticks": false, "title": "Latitude", "labelPadding": 7, "titlePadding": 3}},
     "y": {"field": "lo", "type": "quantitative", "scale": {"domain": [330, 505], "nice": false, "zero": false}, "axis": {"orient": "left", "values": [350, 400, 450, 500], "ticks": false, "title": "Theta (K)", "labelPadding": 8, "titlePadding": 10}},
     "y2": {"field": "hi"}}},
   {"data": {"name": "trop"}, "mark": {"type": "line", "color": "#ff8800", "strokeWidth": 3.5, "clip": true},
    "encoding": {
     "x": {"field": "lat", "type": "quantitative", "axis": {"orient": "bottom", "values": [20, 30, 40, 50], "tickSize": -11, "labels": false, "title": null}},
     "y": {"field": "th", "type": "quantitative", "axis": {"orient": "left", "values": [350, 400, 450, 500], "tickSize": -18, "labels": false, "title": null}}}},
   {"data": {"name": "pts"}, "mark": {"type": "circle", "size": 78, "opacity": 1},
    "encoding": {
     "x": {"field": "lat", "type": "quantitative", "axis": {"orient": "bottom", "values": [25, 35, 45], "tickSize": -6, "labels": false, "title": null}},
     "y": {"field": "th", "type": "quantitative", "axis": {"orient": "left", "values": [340, 360, 370, 380, 390, 410, 420, 430, 440, 460, 470, 480, 490], "tickSize": -9, "labels": false, "title": null}},
     "color": {"field": "f", "type": "quantitative",
       "scale": {"domain": [0, 0.03, 0.06, 0.09, 0.12, 0.17, 0.22, 0.27, 0.32, 0.37, 0.41, 0.45, 0.5], "range": ["#000000", "#280038", "#480088", "#3000e0", "#0050ff", "#00b8ff", "#00ffd0", "#00ff50", "#70ff00", "#e0ff00", "#ffb000", "#ff5000", "#ff0000"]},
       "legend": {"title": null, "legendX": 627, "legendY": 56, "gradientLength": 266, "values": [0, 0.1, 0.2, 0.3, 0.4, 0.5], "format": ".1f"}}}},
   {"data": {"name": "trop"}, "mark": {"type": "point", "opacity": 0},
    "encoding": {
     "x": {"field": "lat", "type": "quantitative", "axis": {"orient": "top", "values": [20, 30, 40, 50], "tickSize": -12, "labels": false, "title": null}},
     "y": {"field": "th", "type": "quantitative", "axis": {"orient": "right", "values": [350, 400, 450, 500], "tickSize": -18, "labels": false, "title": "Fraction", "titleFontSize": 16, "titleAngle": 270, "titleX": 76, "titleY": 188, "titleAlign": "center", "titleBaseline": "middle"}}}},
   {"data": {"name": "trop"}, "mark": {"type": "point", "opacity": 0},
    "encoding": {
     "x": {"field": "lat", "type": "quantitative", "axis": {"orient": "top", "values": [25, 35, 45], "tickSize": -7, "labels": false, "title": null}},
     "y": {"field": "th", "type": "quantitative", "axis": {"orient": "right", "values": [340, 360, 370, 380, 390, 410, 420, 430, 440, 460, 470, 480, 490], "tickSize": -9, "labels": false, "title": null}}}}
  ]
 }
]
}
